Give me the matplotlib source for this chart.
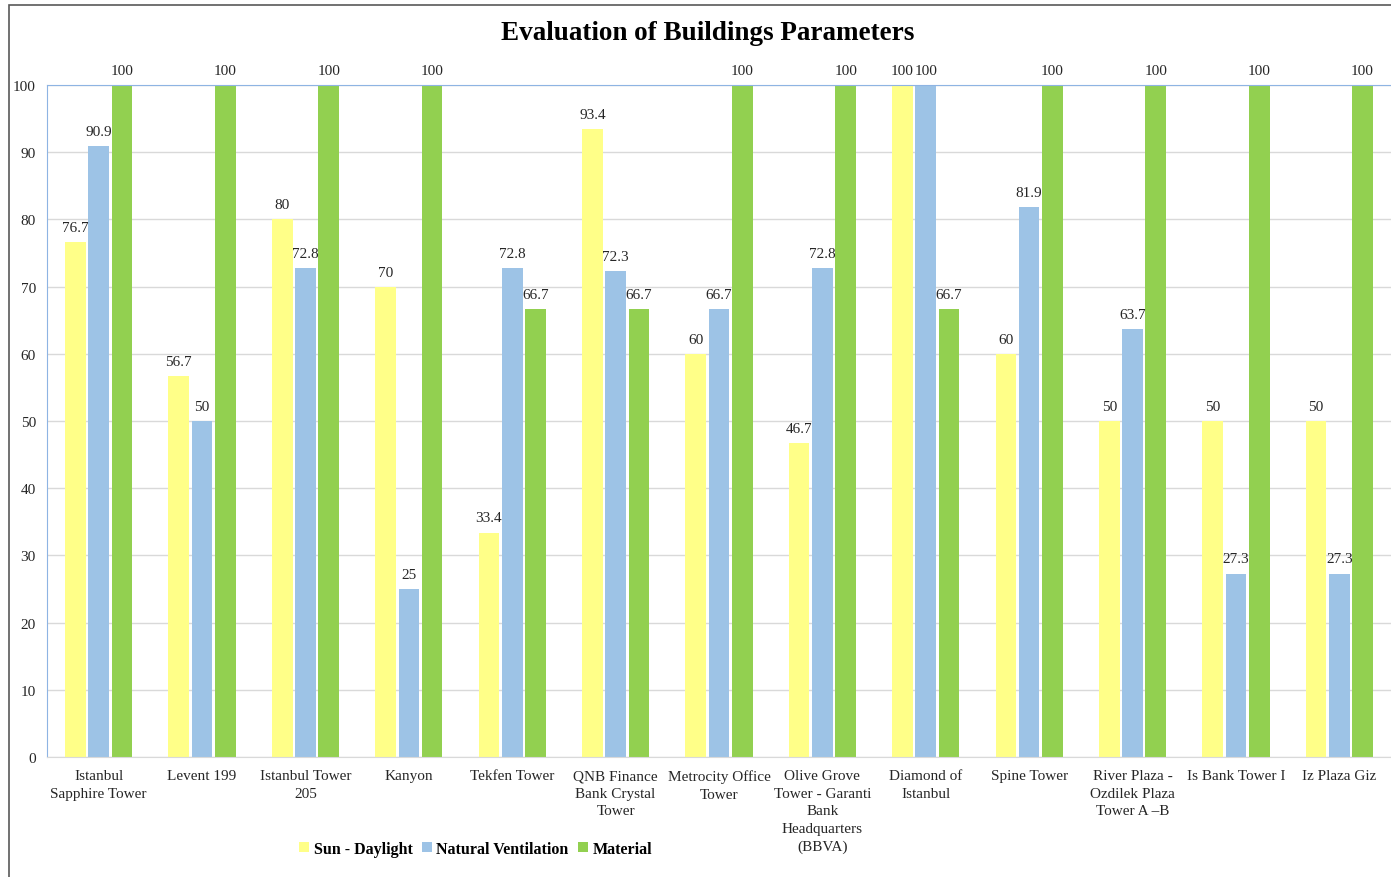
import numpy as np
import matplotlib.pyplot as plt
from matplotlib.patches import Rectangle

plt.rcParams['font.family'] = ['Liberation Serif', 'DejaVu Serif']

buildings = [
    "Istanbul\nSapphire Tower", "Levent 199", "Istanbul Tower\n205", "Kanyon",
    "Tekfen Tower", "QNB Finance\nBank Crystal\nTower", "Metrocity Office\nTower",
    "Olive Grove\nTower - Garanti\nBank\nHeadquarters\n(BBVA)", "Diamond of\nIstanbul",
    "Spine Tower", "River Plaza -\nOzdilek Plaza\nTower A \u2013B", "Is Bank Tower I",
    "Iz Plaza Giz",
]
sun_daylight = [76.7, 56.7, 80, 70, 33.4, 93.4, 60, 46.7, 100, 60, 50, 50, 50]
natural_ventilation = [90.9, 50, 72.8, 25, 72.8, 72.3, 66.7, 72.8, 100, 81.9, 63.7, 27.3, 27.3]
material = [100, 100, 100, 100, 66.7, 66.7, 100, 100, 66.7, 100, 100, 100, 100]

series = [
    ("Sun - Daylight", sun_daylight, "#FFFF88"),
    ("Natural Ventilation", natural_ventilation, "#9DC3E6"),
    ("Material", material, "#92D050"),
]

fig = plt.figure(figsize=(13.91, 8.78), dpi=100)
ax = fig.add_axes([0.0338, 0.1367, 0.9662, 0.7653])

# outer chart border (runs off the right and bottom edges like the source)
fig.patches.append(Rectangle((9 / 1391, -0.1), 1.2, 1.1 - 6 / 878, transform=fig.transFigure,
                             fill=False, edgecolor="#595959", linewidth=1.2))

x = np.arange(len(buildings))
width = 0.2
step = 0.225
for i, (name, vals, color) in enumerate(series):
    pos = x + (i - 1) * step
    bars = ax.bar(pos, vals, width, color=color, label=name, zorder=2)
    for b, v in zip(bars, vals):
        ax.text(b.get_x() + b.get_width() / 2, v + 1.2, f"{v:g}", ha="center", va="bottom",
                fontsize=11, color="#262626")

ax.set_xlim(-0.5, len(buildings) - 0.5)
ax.set_ylim(0, 100)
ax.set_yticks(range(0, 101, 10))
ax.yaxis.grid(True, color="#D9D9D9", linewidth=1, zorder=0)
ax.set_axisbelow(True)
ax.set_xticks(x)
ax.set_xticklabels(buildings, fontsize=11, color="#262626", linespacing=1.45)
ax.tick_params(axis="y", labelsize=11, labelcolor="#262626", length=0, pad=8)
ax.tick_params(axis="x", length=0, pad=9)

ax.spines["right"].set_visible(False)
ax.spines["left"].set_color("#8EB4E3")
ax.spines["top"].set_color("#8EB4E3")
ax.spines["bottom"].set_color("#D9D9D9")

fig.text(0.509, 0.962, "Evaluation of Buildings Parameters", ha="center", va="center",
         fontsize=19.5, fontweight="bold")

leg = fig.legend(loc="center", bbox_to_anchor=(0.342, 0.032), ncol=3, frameon=False,
                 prop={"size": 11.5, "weight": "bold"}, handlelength=0.6, handleheight=0.6,
                 handletextpad=0.3, columnspacing=0.6)

fig.savefig("out.png", dpi=100)
